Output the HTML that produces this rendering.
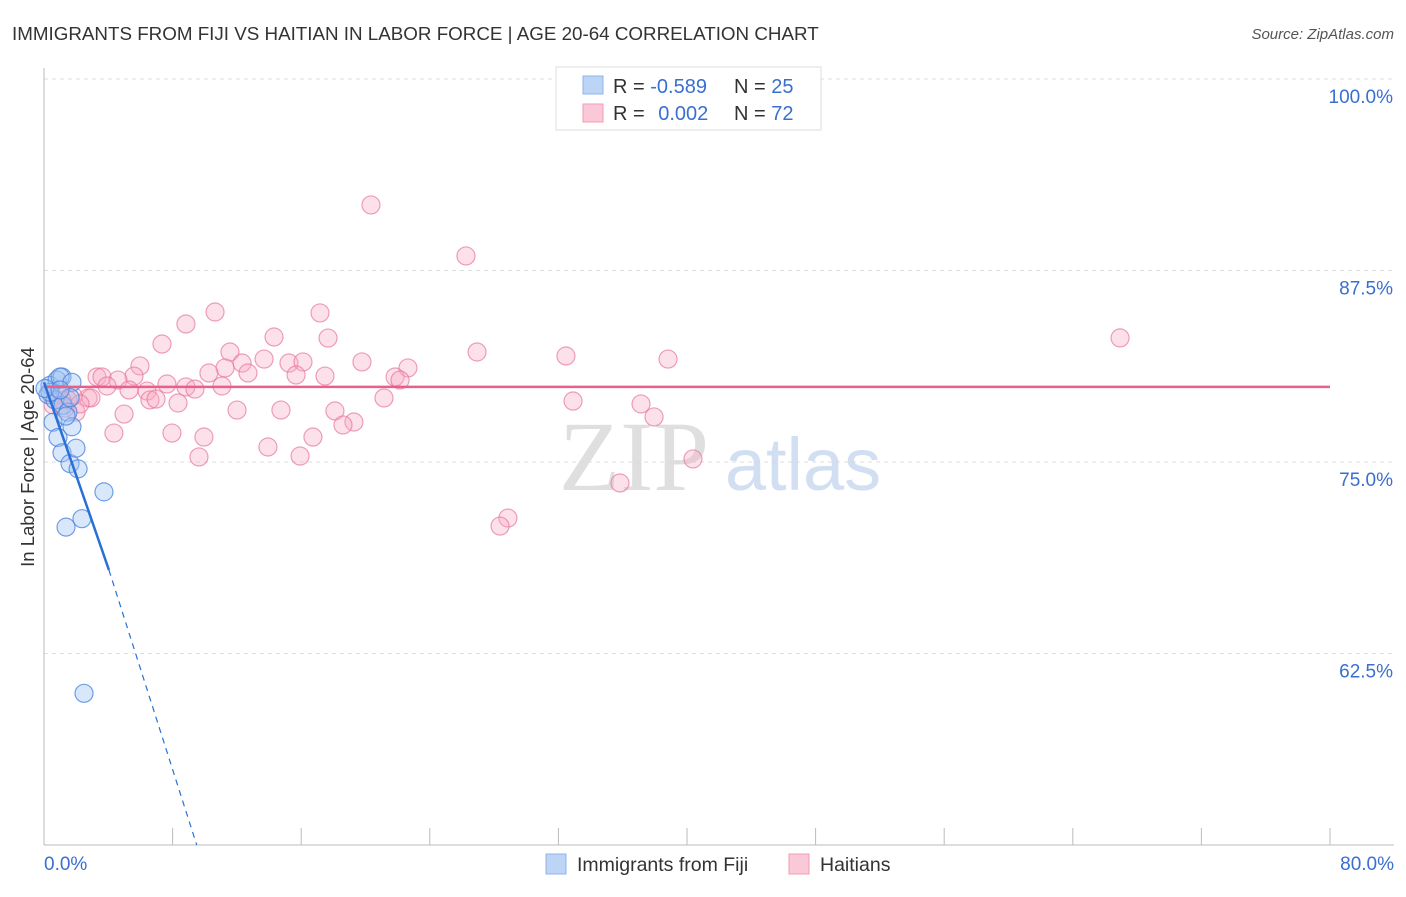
<!DOCTYPE html>
<html><head><meta charset="utf-8"><style>
body{margin:0;background:#fff;font-family:"Liberation Sans",sans-serif}
</style></head><body>
<svg id="c" width="1406" height="892" xmlns="http://www.w3.org/2000/svg" style="font-family:'Liberation Sans',sans-serif">
<text x="12" y="40" font-size="18.8" fill="#333">IMMIGRANTS FROM FIJI VS HAITIAN IN LABOR FORCE | AGE 20-64 CORRELATION CHART</text>
<text x="1394" y="39" font-size="15" fill="#555" font-style="italic" text-anchor="end">Source: ZipAtlas.com</text>
<g id="grid"></g>
<g>
<text x="634" y="490" font-size="100" fill="#d8d8d8" font-family="'Liberation Serif',serif" text-anchor="middle" opacity="0.8">ZIP</text>
<text x="803" y="490" font-size="74" fill="#c8d8ef" text-anchor="middle" opacity="0.8">atlas</text>
</g>
<g id="axes"></g>
<g id="pts"></g>
<g id="lines"></g>
<text transform="translate(34,457) rotate(-90)" font-size="18.5" fill="#333" text-anchor="middle">In Labor Force | Age 20-64</text>
<text x="44" y="870" font-size="19" fill="#3a6fd0">0.0%</text>
<text x="1394" y="870" font-size="19" fill="#3a6fd0" text-anchor="end">80.0%</text>
<g>
<rect x="556" y="67" width="265" height="63" fill="#fff" stroke="#ddd"/>
<rect x="583" y="76" width="20" height="18" fill="#bcd4f6" stroke="#8fb3ea"/>
<rect x="583" y="104" width="20" height="18" fill="#fbc8d8" stroke="#f09bb6"/>
<text x="613" y="93" font-size="20" fill="#333">R = <tspan fill="#3a6fd0">-0.589</tspan></text>
<text x="734" y="93" font-size="20" fill="#333">N = <tspan fill="#3a6fd0">25</tspan></text>
<text x="613" y="120" font-size="20" fill="#333">R = <tspan fill="#3a6fd0" dx="8">0.002</tspan></text>
<text x="734" y="120" font-size="20" fill="#333">N = <tspan fill="#3a6fd0">72</tspan></text>
</g>
<g>
<rect x="546" y="854" width="20" height="20" fill="#bcd4f6" stroke="#8fb3ea"/>
<text x="577" y="871" font-size="19.5" fill="#333">Immigrants from Fiji</text>
<rect x="789" y="854" width="20" height="20" fill="#fbc8d8" stroke="#f09bb6"/>
<text x="820" y="871" font-size="19.5" fill="#333">Haitians</text>
</g>
</svg>
<script>
const yTicks=[100,87.5,75,62.5];
const yTickLabels=["100.0%","87.5%","75.0%","62.5%"];
const xTicks=[0,8,16,24,32,40,48,56,64,72,80];
const fijiX=[0.37,0.81,1.12,1.0,1.74,0.25,0.68,1.18,1.49,1.62,0.56,0.87,1.12,1.74,1.62,1.99,2.12,3.73,2.36,1.37,2.49,0.37,0.06,1.0,1.37];
const fijiY=[80.0,80.35,80.55,80.55,80.2,79.4,79.05,78.7,78.25,79.2,77.6,76.6,75.6,77.3,74.9,75.9,74.55,73.05,71.3,70.75,59.9,79.55,79.8,79.7,78.0];
const haitiX=[20.34,26.25,66.94,10.64,8.83,17.17,14.31,17.67,7.34,26.94,32.47,38.82,11.57,13.69,12.32,5.97,15.24,16.11,19.78,22.64,11.26,10.26,12.69,5.6,3.3,3.61,4.6,15.68,17.48,21.84,22.15,7.65,8.83,11.07,9.39,3.92,6.41,5.29,2.74,1.8,0.81,1.49,6.59,6.97,8.34,21.15,32.91,37.14,2.92,4.98,1.99,1.31,12.01,14.74,18.1,37.95,19.28,18.6,4.35,7.96,9.95,16.73,13.93,9.64,15.93,40.37,35.83,28.86,28.37,1.12,0.56,2.24];
const haitiY=[91.78,88.45,83.1,84.79,84.01,84.73,83.16,83.09,82.7,82.18,81.92,81.72,82.18,81.72,81.46,81.27,81.46,81.53,81.53,81.14,81.14,80.81,80.81,80.61,80.55,80.55,80.35,80.68,80.61,80.55,80.35,80.09,79.9,79.96,79.76,79.96,79.63,79.7,79.18,79.31,79.37,79.05,79.05,79.11,78.85,79.18,78.98,78.79,79.18,78.13,78.26,78.52,78.39,78.39,78.33,77.94,77.61,77.42,76.89,76.89,76.63,76.63,75.98,75.33,75.39,75.2,73.63,71.34,70.82,79.05,78.72,78.79];
const fijiTrend=[[0,80.2],[4.04,67.95],[9.5,50]];
const haitiTrend=[[0,79.9],[80,79.9]];
const NS="http://www.w3.org/2000/svg";
const sx=v=>44+v*16.075;
const sy=v=>79+(100-v)*15.32;
function mk(tag,attrs,parent){const e=document.createElementNS(NS,tag);for(const k in attrs)e.setAttribute(k,attrs[k]);parent.appendChild(e);return e;}
const grid=document.getElementById('grid'),axes=document.getElementById('axes'),pts=document.getElementById('pts'),lines=document.getElementById('lines');
yTicks.forEach((t,i)=>{
 const l=mk('line',{x1:44,x2:1394,y1:sy(t),y2:sy(t),stroke:'#ddd','stroke-dasharray':'4,4'},grid);
 
 
 const tx=mk('text',{x:1393,y:sy(t)+24,'font-size':19,fill:'#3a6fd0','text-anchor':'end'},grid);
 tx.textContent=yTickLabels[i];
 
 
});
const ya=mk('line',{x1:44,x2:44,y1:68,y2:845,stroke:'#bbb'},axes);


const xa=mk('line',{x1:44,x2:1394,y1:845,y2:845,stroke:'#bbb'},axes);


xTicks.forEach(t=>{
 const l=mk('line',{x1:sx(t),x2:sx(t),y1:828,y2:845,stroke:'#bbb'},axes);
 
 
});
haitiX.forEach((x,i)=>{
 const c=mk('circle',{cx:sx(x),cy:sy(haitiY[i]),r:9,fill:'rgba(248,170,195,0.35)',stroke:'rgba(230,120,155,0.7)','stroke-width':1.2},pts);
 
 
});
fijiX.forEach((x,i)=>{
 const c=mk('circle',{cx:sx(x),cy:sy(fijiY[i]),r:9,fill:'rgba(160,195,245,0.4)',stroke:'rgba(70,130,220,0.75)','stroke-width':1.2},pts);
 
 
});
const hl=mk('line',{x1:sx(haitiTrend[0][0]),y1:sy(haitiTrend[0][1]),x2:sx(haitiTrend[1][0]),y2:sy(haitiTrend[1][1]),stroke:'#e8608a','stroke-width':2.5},lines);


const fl=mk('line',{x1:sx(fijiTrend[0][0]),y1:sy(fijiTrend[0][1]),x2:sx(fijiTrend[1][0]),y2:sy(fijiTrend[1][1]),stroke:'#2a6fd6','stroke-width':2.5},lines);


const fd=mk('line',{x1:sx(fijiTrend[1][0]),y1:sy(fijiTrend[1][1]),x2:sx(fijiTrend[2][0]),y2:sy(fijiTrend[2][1]),stroke:'#2a6fd6','stroke-width':1.2,'stroke-dasharray':'6,5'},lines);


</script>
</body></html>
